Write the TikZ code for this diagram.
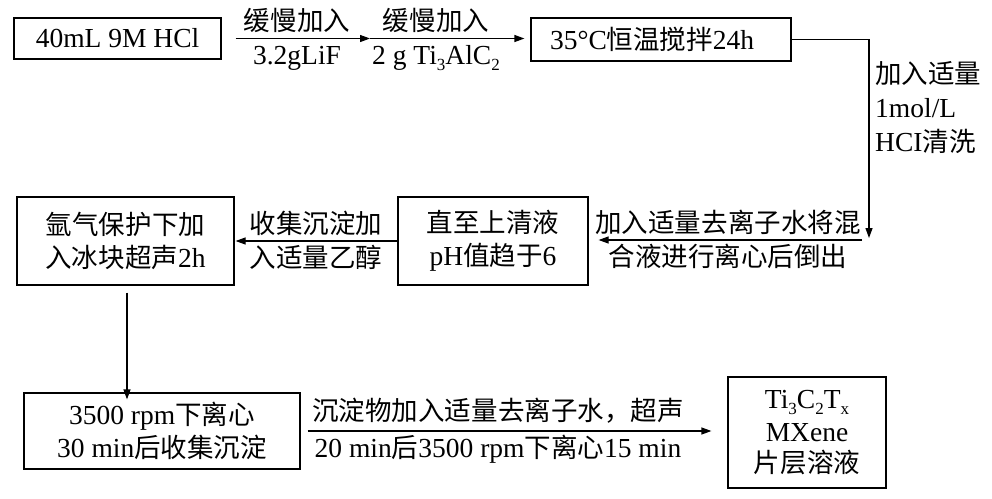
\documentclass[tikz,border=0pt]{standalone}
\usepackage{fontspec}
\setmainfont{Liberation Serif}
\newfontfamily\cjk{Noto Sans CJK SC}[Scale=0.964]
\newcommand\zh[1]{{\cjk #1}}
\newcommand\lsub[1]{\raisebox{-0.22em}{\fontsize{17}{17}\selectfont #1}}
\usetikzlibrary{arrows.meta}
\begin{document}
\begin{tikzpicture}[x=1pt,y=-1pt,
  every node/.style={font=\fontsize{27.5}{33}\selectfont, inner sep=0pt},
  box/.style={draw, line width=1.2pt, align=center},
  arr/.style={line width=1.2pt, -{Triangle[length=10pt,width=7pt]}},
  lbl/.style={align=center, font=\fontsize{27.5}{34}\selectfont}]
\useasboundingbox (0,0) rectangle (992,498);
% boxes
\node[box, minimum width=207, minimum height=41] (b1) at (117.5,38.5) {40mL 9M HCl};
\node[box, minimum width=260, minimum height=43, text width=222, inner xsep=19, align=left] (b2) at (661,39.5) {35°C\zh{恒温搅拌}24h};
\node[box, minimum width=190, minimum height=88] (b3) at (493,241) {\zh{直至上清液}\\pH\zh{值趋于}6};
\node[box, minimum width=217, minimum height=88] (b4) at (125.5,241) {\zh{氩气保护下加}\\\zh{入冰块超声}2h};
\node[box, minimum width=276, minimum height=76] (b5) at (162,431) {3500 rpm\zh{下离心}\\30 min\zh{后收集沉淀}};
\node[box, minimum width=158, minimum height=111, font=\fontsize{27.5}{31}\selectfont] (b6) at (807,432.5) {Ti\lsub{3}C\lsub{2}T\lsub{x}\\[2pt]MXene\\\zh{片层溶液}};
% top row arrows
\coordinate (m1) at (370,38.5);
\draw[arr] ([xshift=14pt]b1.east) -- (m1);
\draw[arr] (m1) -- ([xshift=-6pt]b2.west |- m1);
\node[lbl] (l1) at (297,39.5) {\zh{缓慢加入}\\3.2gLiF};
\node[lbl] (l2) at (436,39.5) {\zh{缓慢加入}\\2 g Ti\lsub{3}AlC\lsub{2}};
% right side
\coordinate (c1) at (869,238);
\draw[arr] (b2.east) -| (c1);
\node[lbl, align=left, anchor=north west] (l3) at (875,61) {\zh{加入适量}\\1mol/L\\HCI\zh{清洗}};
\coordinate (c2) at (862,240);
\draw[arr] (c2) -- ([xshift=10pt]b3.east |- c2);
\node[lbl] (l4) at (728,239) {\zh{加入适量去离子水将混}\\\zh{合液进行离心后倒出}};
% middle row
\draw[arr] (b3.west) -- ([xshift=1pt]b4.east);
\node[lbl] (l5) at (316,240) {\zh{收集沉淀加}\\\zh{入适量乙醇}};
% down
\draw[arr] ([xshift=1.5pt,yshift=-7pt]b4.south) -- ([xshift=1.5pt,yshift=-7pt]b4.south |- b5.north);
% bottom row
\draw[arr] ([xshift=7pt]b5.east) -- ([xshift=-16pt]b6.west |- b5.east);
\node[lbl, font=\fontsize{27.5}{37}\selectfont] (l6) at (498,431) {\zh{沉淀物加入适量去离子水，超声}\\20 min\zh{后}3500 rpm\zh{下离心}15 min};
\end{tikzpicture}
\end{document}
